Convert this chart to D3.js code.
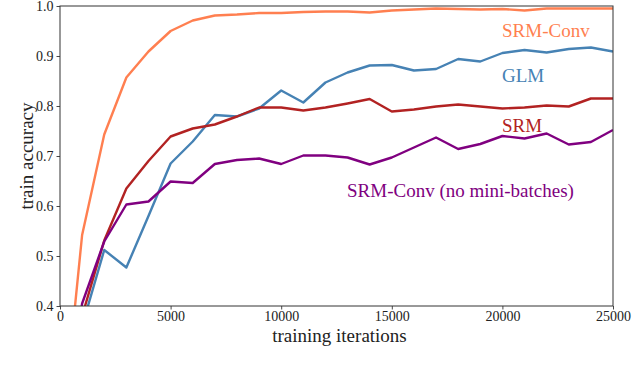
<!DOCTYPE html>
<html>
<head>
<meta charset="utf-8">
<script src="https://cdn.jsdelivr.net/npm/d3@7"></script>
<style>
  html, body { margin: 0; padding: 0; background: #fff; }
  svg { display: block; }
  text { font-family: "Liberation Serif", "DejaVu Serif", serif; }
</style>
</head>
<body>
<svg id="chart" width="640" height="369"></svg>
<script>
const iterations = [0, 1000, 2000, 3000, 4000, 5000, 6000, 7000, 8000, 9000, 10000, 11000, 12000, 13000, 14000, 15000, 16000, 17000, 18000, 19000, 20000, 21000, 22000, 23000, 24000, 25000];
const srmConv = [0.10, 0.542, 0.743, 0.857, 0.909, 0.950, 0.971, 0.981, 0.983, 0.986, 0.986, 0.988, 0.989, 0.989, 0.987, 0.991, 0.993, 0.995, 0.994, 0.993, 0.994, 0.991, 0.995, 0.995, 0.995, 0.995];
const glm = [0.10, 0.36, 0.512, 0.477, 0.580, 0.685, 0.729, 0.782, 0.779, 0.795, 0.831, 0.807, 0.847, 0.867, 0.881, 0.882, 0.871, 0.874, 0.894, 0.889, 0.906, 0.912, 0.907, 0.914, 0.917, 0.909];
const srm = [0.10, 0.38, 0.531, 0.635, 0.690, 0.739, 0.755, 0.763, 0.779, 0.797, 0.797, 0.791, 0.797, 0.805, 0.814, 0.789, 0.793, 0.799, 0.803, 0.799, 0.795, 0.797, 0.801, 0.799, 0.815, 0.815];
const srmConvNoMB = [0.10, 0.405, 0.529, 0.603, 0.609, 0.649, 0.646, 0.684, 0.692, 0.695, 0.684, 0.701, 0.701, 0.697, 0.683, 0.697, 0.717, 0.737, 0.714, 0.724, 0.740, 0.735, 0.745, 0.723, 0.728, 0.752];
const xTicks = [0, 5000, 10000, 15000, 20000, 25000];
const yTicks = [0.4, 0.5, 0.6, 0.7, 0.8, 0.9, 1.0];
const seriesNames = ["SRM-Conv", "GLM", "SRM", "SRM-Conv (no mini-batches)"];
const seriesColors = ["#FF7F50", "#4682B4", "#B22222", "#800080"];

(function () {
const series = [srmConv, glm, srm, srmConvNoMB];
const labelPos = [
  {x: 502, y: 37},
  {x: 502, y: 82},
  {x: 502, y: 132},
  {x: 347, y: 197}
];

const svg = d3.select("#chart");
const mL = 60, mR = 613, mT = 6, mB = 306;

const x = d3.scaleLinear().domain([0, 25000]).range([mL, mR]);
const y = d3.scaleLinear().domain([0.4, 1.0]).range([mB, mT]);

svg.append("defs").append("clipPath").attr("id", "clip")
  .append("rect").attr("x", mL).attr("y", mT)
  .attr("width", mR - mL).attr("height", mB - mT);

const line = d3.line().x((d, i) => x(iterations[i])).y(d => y(d));

const g = svg.append("g").attr("clip-path", "url(#clip)");
series.forEach((s, k) => {
  g.append("path").datum(s)
    .attr("fill", "none")
    .attr("stroke", seriesColors[k])
    .attr("stroke-width", 2.4)
    .attr("stroke-linejoin", "round")
    .attr("d", line);
});

const xAxis = d3.axisBottom(x).tickValues(xTicks).tickFormat(d3.format("d")).tickSize(3.5).tickPadding(2);
const yAxis = d3.axisLeft(y).tickValues(yTicks).tickFormat(d3.format(".1f")).tickSize(3.5).tickPadding(3);

const gx = svg.append("g").attr("transform", `translate(0,${mB})`).call(xAxis);
const gy = svg.append("g").attr("transform", `translate(${mL},0)`).call(yAxis);
[gx, gy].forEach(a => {
  a.select(".domain").remove();
  a.selectAll(".tick line").attr("stroke", "#333").attr("stroke-width", 0.9);
  a.selectAll(".tick text").attr("fill", "#222").style("font-size", "14px")
    .style("font-family", "'Liberation Serif', serif");
});

svg.append("rect").attr("x", mL).attr("y", mT)
  .attr("width", mR - mL).attr("height", mB - mT)
  .attr("fill", "none").attr("stroke", "#333").attr("stroke-width", 1);

svg.append("text").attr("x", (mL + mR) / 2 + 3).attr("y", 342)
  .attr("text-anchor", "middle").attr("fill", "#222")
  .style("font-size", "19px").text("training iterations");
svg.append("text")
  .attr("transform", `translate(33,${(mT + mB) / 2}) rotate(-90)`)
  .attr("text-anchor", "middle").attr("fill", "#222")
  .style("font-size", "19px").text("train accuracy");

seriesNames.forEach((n, k) => {
  svg.append("text").attr("x", labelPos[k].x).attr("y", labelPos[k].y)
    .attr("fill", seriesColors[k]).style("font-size", "19px").text(n);
});
})();
</script>
</body>
</html>
